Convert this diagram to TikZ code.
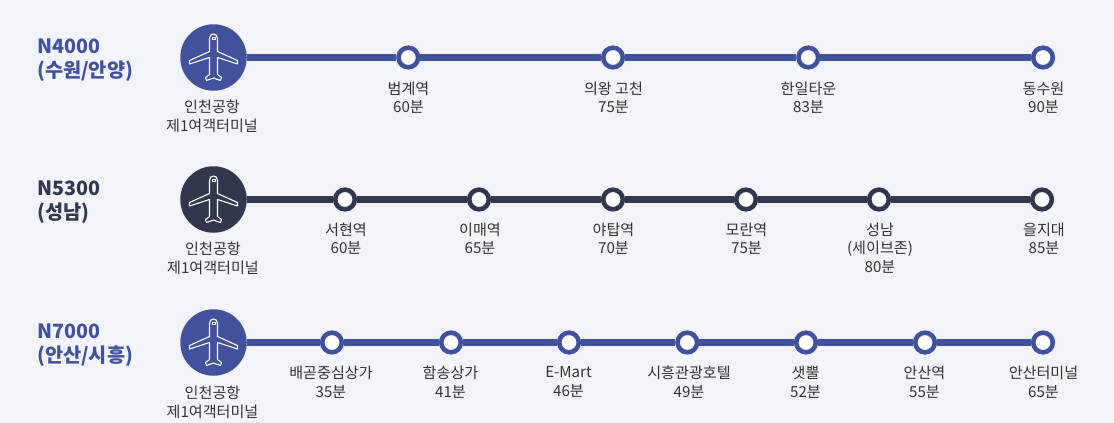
\documentclass[tikz,border=0pt]{standalone}
\usepackage{fontspec}
\setmainfont{Noto Sans CJK KR}
\definecolor{bluec}{HTML}{41519D}
\definecolor{darkc}{HTML}{32374E}
\definecolor{bgc}{HTML}{F3F4F9}
\definecolor{textc}{HTML}{333333}
\tikzset{
  x=1pt,y=-1pt,
  linecol/.style={line width=6.4pt,draw=#1},
  stop/.style={circle,draw=#1,line width=4.6pt,fill=white,minimum size=19.6pt,inner sep=0pt},
  hub/.style={circle,fill=#1,minimum size=66.5pt,inner sep=0pt},
  lbl/.style={align=center,text=textc,inner sep=0pt,anchor=north,font=\fontsize{15.1}{18.8}\selectfont},
  ttl/.style={align=left,text=#1,inner sep=0pt,anchor=north west,font=\fontsize{19.7}{24}\selectfont\bfseries},
  plane/.pic={
    \draw[white,line width=1.1pt,line join=round]
      (-4,-19) .. controls (-4,-25) and (4,-25) .. (4,-19)
      -- (4,-6) -- (24,3) -- (24,6.5) -- (4,0) -- (4,17)
      -- (8,20) -- (7,23) .. controls (3,21.5) and (2,21.5) .. (0,20.5)
      .. controls (-2,21.5) and (-3,21.5) .. (-7,23) -- (-8,20) -- (-4,17)
      -- (-4,0) -- (-24,6.5) -- (-24,3) -- (-4,-6) -- cycle;
    \draw[white,line width=0.9pt] (-1.5,-20) rectangle (1.5,-18);
  }
}
\begin{document}
\begin{tikzpicture}
\useasboundingbox[fill=bgc] (0,0) rectangle (1114,423);
% Row 1
\node[hub=bluec] (a0) at (213.5,57.5) {};
\node[stop=bluec] (a1) at (408.3,57.5) {};
\node[stop=bluec] (a2) at (613,57.5) {};
\node[stop=bluec] (a3) at (808.3,57.5) {};
\node[stop=bluec] (a4) at (1043,57.5) {};
\draw[linecol=bluec] (a0) -- (a1);
\draw[linecol=bluec] (a1) -- (a2);
\draw[linecol=bluec] (a2) -- (a3);
\draw[linecol=bluec] (a3) -- (a4);
\pic at (213.5,57.5) {plane};
\node[ttl=bluec] (ta) at (37,38.5) {N4000\\(수원/안양)};
\node[lbl] (la0) at (212,100) {인천공항\\제1여객터미널};
\node[lbl] (la1) at (408.5,81.5) {범계역\\60분};
\node[lbl] (la2) at (613.5,81.5) {의왕 고천\\75분};
\node[lbl] (la3) at (808.5,81.5) {한일타운\\83분};
\node[lbl] (la4) at (1043.5,81.5) {동수원\\90분};
% Row 2
\node[hub=darkc] (b0) at (213.5,199.5) {};
\node[stop=darkc] (b1) at (345,199.5) {};
\node[stop=darkc] (b2) at (479,199.5) {};
\node[stop=darkc] (b3) at (613,199.5) {};
\node[stop=darkc] (b4) at (746,199.5) {};
\node[stop=darkc] (b5) at (879,199.5) {};
\node[stop=darkc] (b6) at (1042,199.5) {};
\draw[linecol=darkc] (b0) -- (b1);
\draw[linecol=darkc] (b1) -- (b2);
\draw[linecol=darkc] (b2) -- (b3);
\draw[linecol=darkc] (b3) -- (b4);
\draw[linecol=darkc] (b4) -- (b5);
\draw[linecol=darkc] (b5) -- (b6);
\pic at (213.5,199.5) {plane};
\node[ttl=darkc] (tb) at (37,180.5) {N5300\\(성남)};
\node[lbl] (lb0) at (213,241.5) {인천공항\\제1여객터미널};
\node[lbl] (lb1) at (346,222.5) {서현역\\60분};
\node[lbl] (lb2) at (480,222.5) {이매역\\65분};
\node[lbl] (lb3) at (613.5,222.5) {야탑역\\70분};
\node[lbl] (lb4) at (746.5,222.5) {모란역\\75분};
\node[lbl] (lb5) at (880,222.5) {성남\\(세이브존)\\80분};
\node[lbl] (lb6) at (1044,222.5) {을지대\\85분};
% Row 3
\node[hub=bluec] (c0) at (213.5,342.5) {};
\node[stop=bluec] (c1) at (332,342.5) {};
\node[stop=bluec] (c2) at (451,342.5) {};
\node[stop=bluec] (c3) at (569,342.5) {};
\node[stop=bluec] (c4) at (687.3,342.5) {};
\node[stop=bluec] (c5) at (806,342.5) {};
\node[stop=bluec] (c6) at (925,342.5) {};
\node[stop=bluec] (c7) at (1043,342.5) {};
\draw[linecol=bluec] (c0) -- (c1);
\draw[linecol=bluec] (c1) -- (c2);
\draw[linecol=bluec] (c2) -- (c3);
\draw[linecol=bluec] (c3) -- (c4);
\draw[linecol=bluec] (c4) -- (c5);
\draw[linecol=bluec] (c5) -- (c6);
\draw[linecol=bluec] (c6) -- (c7);
\pic at (213.5,342.5) {plane};
\node[ttl=bluec] (tc) at (37,323.5) {N7000\\(안산/시흥)};
\node[lbl] (lc0) at (212.5,385.5) {인천공항\\제1여객터미널};
\node[lbl] (lc1) at (331,366) {배곧중심상가\\35분};
\node[lbl] (lc2) at (450.5,366) {함송상가\\41분};
\node[lbl] (lc3) at (568.5,366) {E-Mart\\46분};
\node[lbl] (lc4) at (689,366) {시흥관광호텔\\49분};
\node[lbl] (lc5) at (805.5,366) {샛뿔\\52분};
\node[lbl] (lc6) at (924.5,366) {안산역\\55분};
\node[lbl] (lc7) at (1043.5,366) {안산터미널\\65분};
\end{tikzpicture}
\end{document}
